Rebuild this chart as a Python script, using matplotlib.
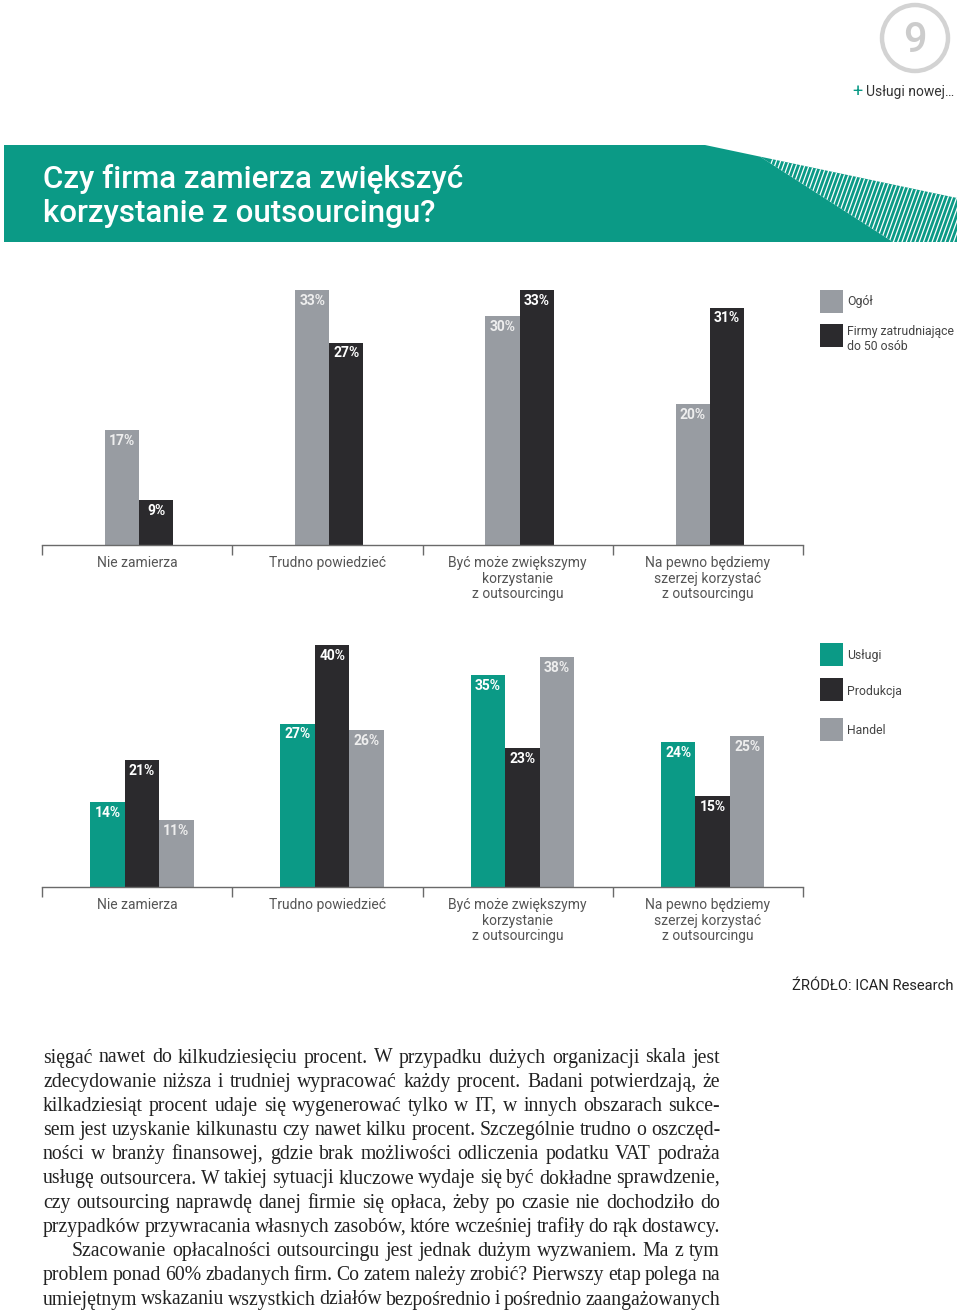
import matplotlib
matplotlib.use("Agg")
import matplotlib.pyplot as plt
from matplotlib.patches import Polygon, Rectangle, Circle
from matplotlib.lines import Line2D
import numpy as np

# ---------------- data ----------------
categories = ["Nie zamierza", "Trudno powiedzieć",
              "Być może zwiększymy\nkorzystanie\nz outsourcingu",
              "Na pewno będziemy\nszerzej korzystać\nz outsourcingu"]

chart1_series = ["Ogół", "Firmy zatrudniające\ndo 50 osób"]
ogol = [17, 33, 30, 20]
firmy50 = [9, 27, 33, 31]

chart2_series = ["Usługi", "Produkcja", "Handel"]
uslugi = [14, 27, 35, 24]
produkcja = [21, 40, 23, 15]
handel = [11, 26, 38, 25]

title_lines = ["Czy firma zamierza zwiększyć", "korzystanie z outsourcingu?"]
source_text = "ŹRÓDŁO: ICAN Research"
header_text = "Usługi nowej…"
page_number = "9"

body_lines = [
    "sięgać nawet do kilkudziesięciu procent. W przypadku dużych organizacji skala jest",
    "zdecydowanie niższa i trudniej wypracować każdy procent. Badani potwierdzają, że",
    "kilkadziesiąt procent udaje się wygenerować tylko w IT, w innych obszarach sukce-",
    "sem jest uzyskanie kilkunastu czy nawet kilku procent. Szczególnie trudno o oszczęd-",
    "ności w branży finansowej, gdzie brak możliwości odliczenia podatku VAT podraża",
    "usługę outsourcera. W takiej sytuacji kluczowe wydaje się być dokładne sprawdzenie,",
    "czy outsourcing naprawdę danej firmie się opłaca, żeby po czasie nie dochodziło do",
    "przypadków przywracania własnych zasobów, które wcześniej trafiły do rąk dostawcy.",
    "Szacowanie opłacalności outsourcingu jest jednak dużym wyzwaniem. Ma z tym",
    "problem ponad 60% zbadanych firm. Co zatem należy zrobić? Pierwszy etap polega na",
    "umiejętnym wskazaniu wszystkich działów bezpośrednio i pośrednio zaangażowanych",
]
indented_lines = [8]

# ---------------- style ----------------
TEAL = "#0b9a86"
GREY = "#989ca2"
BLACK = "#2b2a2d"
AXC = "#6a6a6a"
LABC = "#555555"
SANS = ["Roboto", "DejaVu Sans"]
SERIF = ["Liberation Serif", "DejaVu Serif"]

W, H = 960, 1311
fig = plt.figure(figsize=(W / 100, H / 100), dpi=100)
fig.patch.set_facecolor("white")

page = fig.add_axes([0, 0, 1, 1])
page.set_xlim(0, W)
page.set_ylim(H, 0)
page.axis("off")


def px_axes(l, t, r, b):
    return fig.add_axes([l / W, 1 - b / H, (r - l) / W, (b - t) / H])


# ---------------- header ----------------
page.add_patch(Circle((915, 38), 33, fill=False, ec="#d3d3d3", lw=3.2))
page.text(915, 40, page_number, ha="center", va="center", fontsize=30,
          color="#cccccc", family=SANS, fontweight="medium")
page.text(852, 92, "+", ha="left", va="center", fontsize=13, color=TEAL,
          family=SANS)
page.text(866, 92, header_text, ha="left", va="center", fontsize=10,
          color="#333333", family=SANS)

# ---------------- banner ----------------
solid = Polygon([(4, 145), (705, 145), (760, 156.6), (893, 242), (4, 242)],
                closed=True, fc=TEAL, ec="none")
page.add_patch(solid)
hatch_poly = Polygon([(760, 156.6), (957, 198), (957, 242), (893, 242)],
                     closed=True, fc=TEAL, ec="none")
page.add_patch(hatch_poly)
for x0 in np.arange(740, 1000, 4.3):
    ln = Line2D([x0, x0 + 36], [250, 150], color="white", lw=0.9)
    ln.set_clip_path(hatch_poly)
    page.add_line(ln)

for i, line in enumerate(title_lines):
    page.text(43, 179 + 34 * i, line, ha="left", va="center", fontsize=22.5,
              color="white", family=SANS, fontweight="medium")


# ---------------- charts ----------------
def style_axes(ax):
    for s in ("top", "right", "left"):
        ax.spines[s].set_visible(False)
    ax.spines["bottom"].set_color(AXC)
    ax.spines["bottom"].set_linewidth(1.0)
    ax.set_yticks([])
    ax.set_xlim(-0.5, 3.5)
    ax.set_xticks(np.arange(len(categories)))
    ax.set_xticklabels(categories, fontsize=10, color=LABC, family=SANS,
                       linespacing=1.15)
    ax.tick_params(axis="x", which="major", length=0, pad=8)
    ax.set_xticks(np.arange(-0.5, len(categories), 1.0), minor=True)
    ax.tick_params(axis="x", which="minor", length=7.2, width=1.0,
                   color=AXC, direction="out")
    ax.patch.set_alpha(0)


def label_bars(ax, bars, vals, color):
    for b, v in zip(bars, vals):
        ax.annotate(f"{v}%", (b.get_x() + b.get_width() / 2, b.get_height()),
                    xytext=(0, -7.8), textcoords="offset points",
                    ha="center", va="center", fontsize=10,
                    fontweight="semibold", color=color, family=SANS)


x = np.arange(len(categories))

# chart 1
ax1 = px_axes(42, 280, 803, 545)
bw1 = 0.179
off1 = 0.01
b1 = ax1.bar(x + off1 - bw1 / 2, ogol, bw1, color=GREY)
b2 = ax1.bar(x + off1 + bw1 / 2, firmy50, bw1, color=BLACK)
ax1.set_ylim(3.87, 3.87 + 265 / 8.75)
style_axes(ax1)
label_bars(ax1, b1, ogol, "#eeeeee")
label_bars(ax1, b2, firmy50, "white")

# chart 2
ax2 = px_axes(42, 630, 803, 887)
bw2 = 0.181
off2 = 0.025
c1 = ax2.bar(x + off2 - bw2, uslugi, bw2, color=TEAL)
c2 = ax2.bar(x + off2, produkcja, bw2, color=BLACK)
c3 = ax2.bar(x + off2 + bw2, handel, bw2, color=GREY)
ax2.set_ylim(0, 257 / 6.05)
style_axes(ax2)
label_bars(ax2, c1, uslugi, "white")
label_bars(ax2, c2, produkcja, "white")
label_bars(ax2, c3, handel, "#eeeeee")

# ---------------- legends ----------------
def legend_entry(y_top, color, text, ty):
    page.add_patch(Rectangle((820, y_top), 23, 22.5, fc=color, ec="none"))
    page.text(847, ty, text, ha="left", va="center", fontsize=8.8,
              color="#444444", family=SANS, linespacing=1.2)

legend_entry(290, GREY, chart1_series[0], 302)
legend_entry(324, BLACK, chart1_series[1], 339)
legend_entry(643, TEAL, chart2_series[0], 656)
legend_entry(678, BLACK, chart2_series[1], 691)
legend_entry(718, GREY, chart2_series[2], 731)

# ---------------- source ----------------
page.text(954, 986, source_text, ha="right", va="center", fontsize=10.6,
          color="#222222", family=SANS)

# ---------------- body text (justified) ----------------
renderer = fig.canvas.get_renderer()
LEFT, RIGHT = 43, 720
for i, line in enumerate(body_lines):
    y = 1062.5 + 24.2 * i
    left = LEFT + (29 if i in indented_lines else 0)
    words = line.split(" ")
    texts = [page.text(0, y, w, ha="left", va="baseline", fontsize=14.2,
                       color="#222222", family=SERIF) for w in words]
    widths = [t.get_window_extent(renderer).width for t in texts]
    gap = (RIGHT - left - sum(widths)) / max(len(words) - 1, 1)
    xpos = left
    for t, wd in zip(texts, widths):
        t.set_x(xpos)
        xpos += wd + gap

fig.savefig("out.png", dpi=100, facecolor="white")
